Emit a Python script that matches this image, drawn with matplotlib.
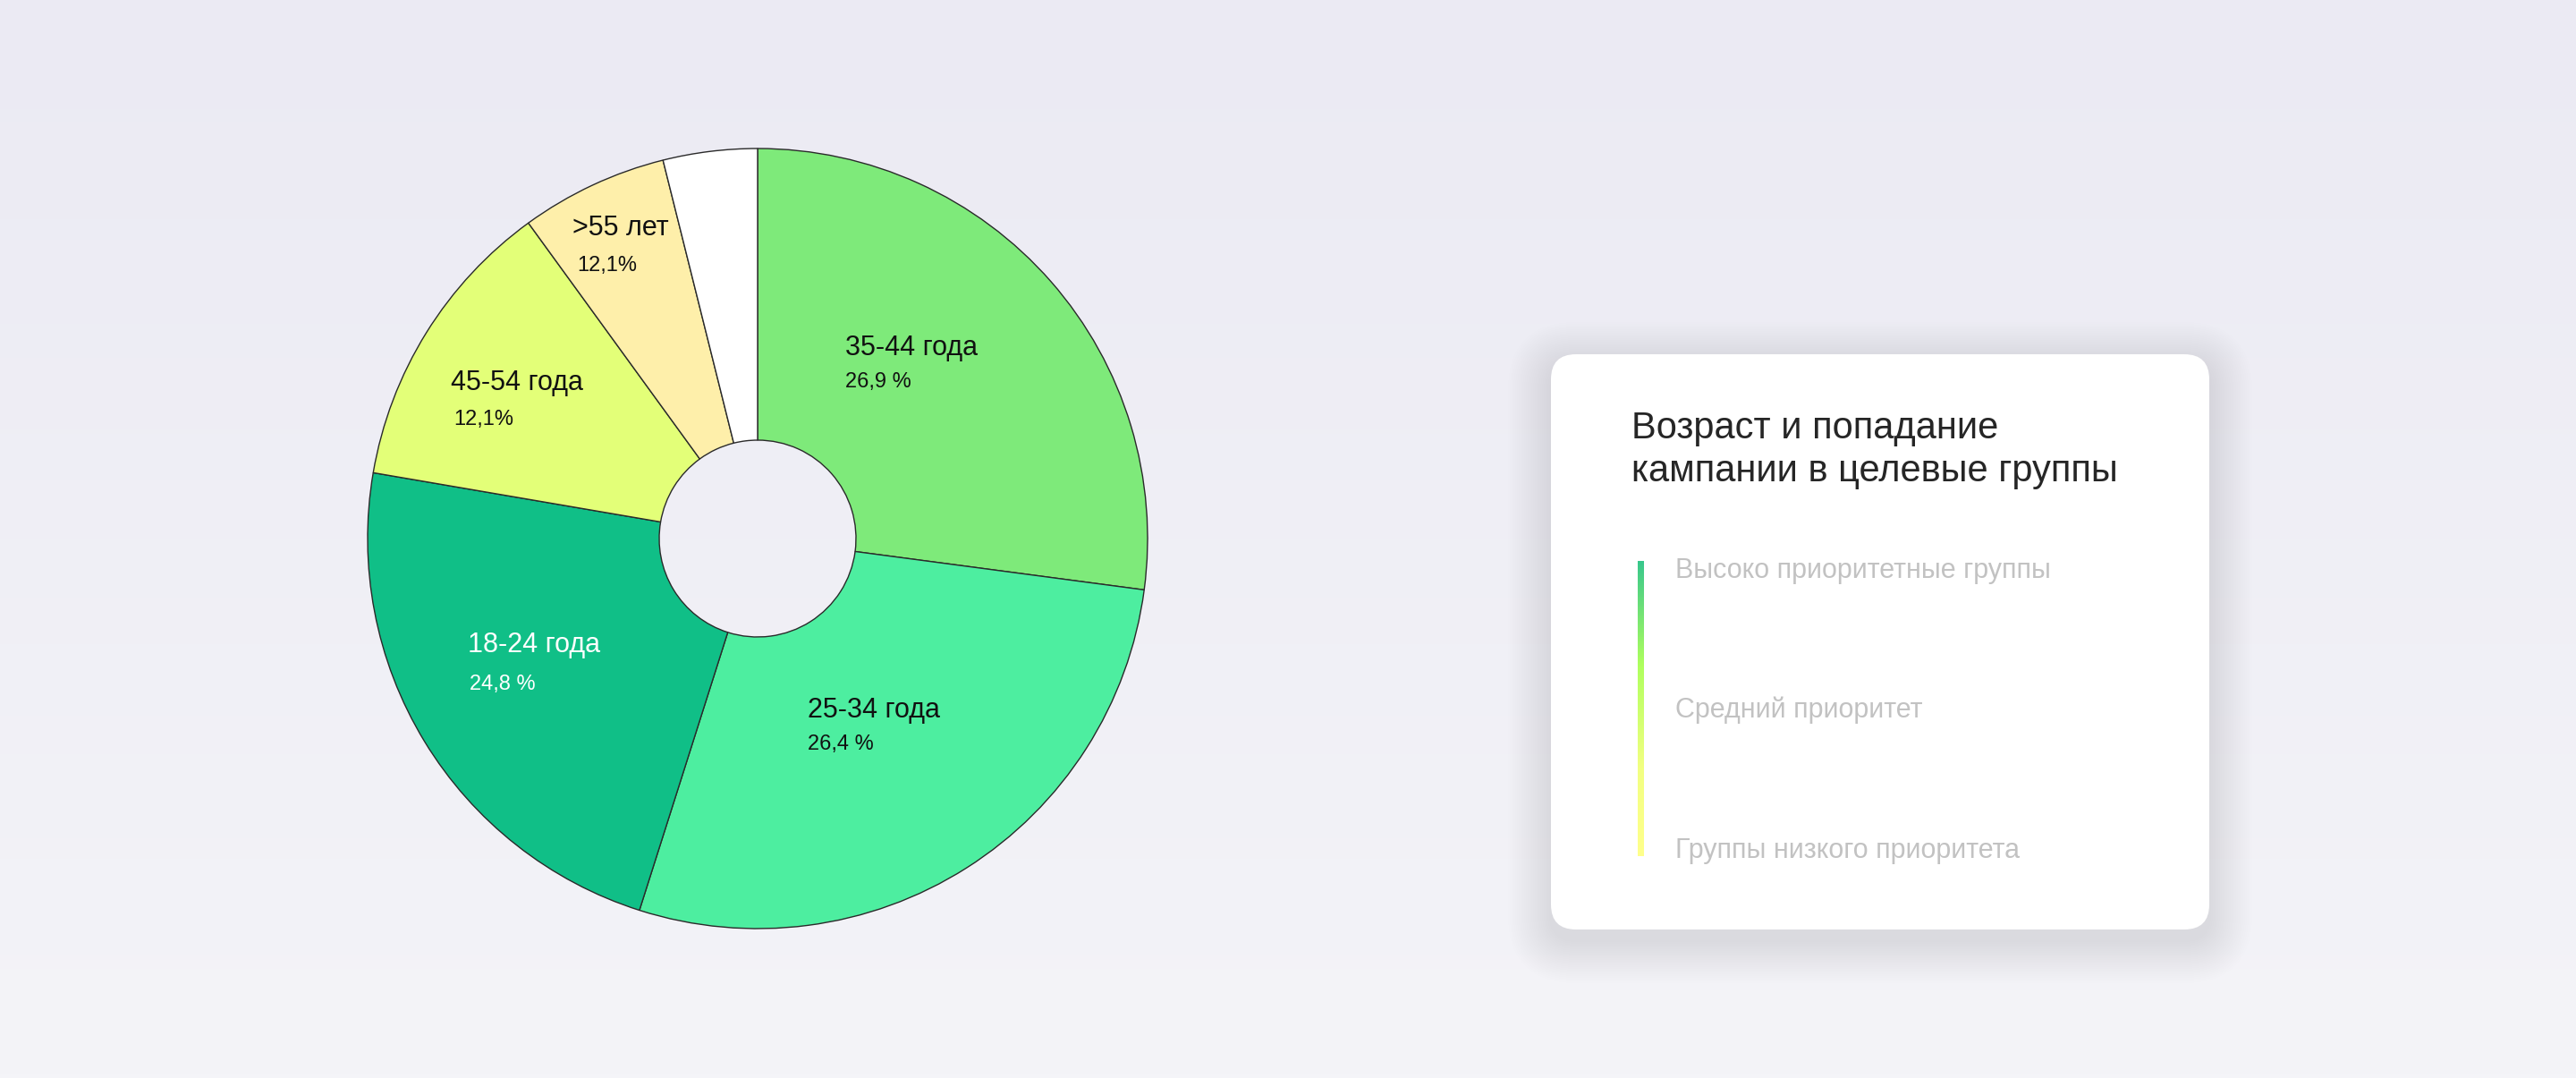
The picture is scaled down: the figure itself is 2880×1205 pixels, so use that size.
import numpy as np
import matplotlib
matplotlib.use("Agg")
import matplotlib.pyplot as plt
from matplotlib.patches import FancyBboxPatch
from matplotlib.colors import LinearSegmentedColormap

# data
age_groups = ['35-44 года', '25-34 года', '18-24 года', '45-54 года', '>55 лет', '']
slice_share = [27.1, 27.8, 22.8, 12.3, 6.1, 3.9]   # share of the ring, clockwise from top
pct_labels = ['26,9 %', '26,4 %', '24,8 %', '12,1%', '12,1%', '']
slice_colors = ['#7EEA7A', '#4DEEA0', '#10BF87', '#E3FF78', '#FEEFAA', '#FFFFFF']
label_colors = ['#111111', '#111111', '#FFFFFF', '#111111', '#111111', '#111111']

title_lines = ['Возраст и попадание', 'кампании в целевые группы']
legend_labels = ['Высоко приоритетные группы', 'Средний приоритет', 'Группы низкого приоритета']

W, H = 2880, 1205
FONT = 'Liberation Sans'


def Y(y):
    # image coords (top-down) -> axes coords
    return H - y


fig = plt.figure(figsize=(W / 100, H / 100), dpi=100)
ax = fig.add_axes([0, 0, 1, 1])

# background gradient
bg = LinearSegmentedColormap.from_list('bg', ['#EBEAF3', '#F4F4F8'])
grad = np.linspace(0, 1, 256).reshape(-1, 1)
ax.imshow(grad, cmap=bg, aspect='auto', extent=[0, W, 0, H], zorder=0)

# donut
cx, cy, R, r = 847, 602, 436, 110
ax.pie(slice_share, colors=slice_colors, startangle=90, counterclock=False,
       center=(cx, Y(cy)), radius=R,
       wedgeprops=dict(width=R - r, edgecolor='#2a2a2a', linewidth=1.0))

# slice labels (left edge, baseline)
label_pos = [(945, 397, 433), (903, 802, 838), (523, 729, 771), (504, 436, 475), (640, 263, 303)]
pct_dx = [0, 0, 2, 3, 5]
for i, (lx, ly, py) in enumerate(label_pos):
    ax.text(lx, Y(ly), age_groups[i], ha='left', va='baseline', fontsize=22,
            family=FONT, color=label_colors[i], zorder=5)
    ax.text(lx + pct_dx[i], Y(py), pct_labels[i], ha='left', va='baseline', fontsize=17,
            family=FONT, color=label_colors[i], zorder=5)

# card with soft shadow
x0, y0, x1, y1 = 1734, 396, 2470, 1039
for k in range(24):
    pad = 2 + k * 2.0
    sh = FancyBboxPatch((x0, Y(y1) - 12), x1 - x0, y1 - y0,
                        boxstyle='round,pad=%f,rounding_size=%f' % (pad, 28 + pad),
                        fc='#B9B7D0', ec='none', alpha=0.0045, zorder=2)
    ax.add_patch(sh)
card = FancyBboxPatch((x0, Y(y1)), x1 - x0, y1 - y0,
                      boxstyle='round,pad=0,rounding_size=28',
                      fc='white', ec='none', zorder=3)
ax.add_patch(card)

for line, by in zip(title_lines, [490, 538]):
    ax.text(1824, Y(by), line, ha='left', va='baseline', fontsize=30,
            family=FONT, color='#262626', zorder=5)

# gradient priority bar
bar = LinearSegmentedColormap.from_list(
    'bar', [(0, '#38C78C'), (0.35, '#AEFF5E'), (0.7, '#F2FF82'), (1, '#FFFF8C')])
ax.imshow(grad, cmap=bar, aspect='auto', extent=[1831, 1838, Y(957), Y(627)], zorder=4)

for txt, by in zip(legend_labels, [646, 802, 959]):
    ax.text(1873, Y(by), txt, ha='left', va='baseline', fontsize=22,
            family=FONT, color='#C2C2C2', zorder=5)

ax.set_xlim(0, W)
ax.set_ylim(0, H)
ax.set_aspect('auto')
ax.axis('off')

fig.savefig('out.png', dpi=100)
